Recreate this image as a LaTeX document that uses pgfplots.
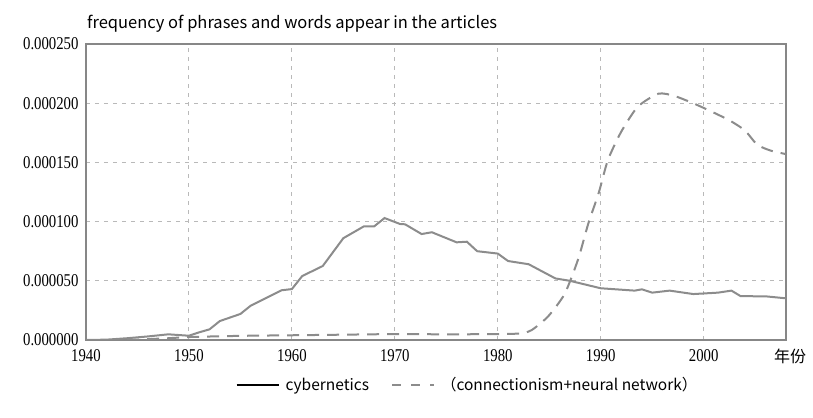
\documentclass[border=0pt]{standalone}
\usepackage{fontspec}
\usepackage{pgfplots}
\pgfplotsset{compat=1.18}
\newfontfamily\tickfont[FakeStretch=0.82]{Liberation Serif}
\newfontfamily\cjk{Noto Sans CJK SC}
\definecolor{linegray}{RGB}{140,140,140}
\definecolor{gridgray}{RGB}{185,185,185}
\definecolor{framegray}{RGB}{135,135,135}

\begin{document}
\begin{tikzpicture}
  \begin{axis}[
      at={(0,0)}, anchor=south west,
      scale only axis,
      width=700bp, height=296bp,
      xmin=1940, xmax=2008,
      ymin=0, ymax=0.00025,
      clip mode=individual,
      xtick={1940,1950,...,2000},
      ytick={0,0.00005,...,0.00025},
      scaled y ticks=false,
      yticklabel style={/pgf/number format/.cd, fixed, fixed zerofill, precision=6,
        /tikz/.cd, xshift=-4bp},
      xticklabel style={/pgf/number format/.cd, 1000 sep={}, /tikz/.cd, yshift=-6bp},
      /pgf/number format/assume math mode=true,
      tick label style={font=\tickfont\fontsize{18bp}{20bp}\selectfont, text=black},
      major tick length=0pt,
      axis line style={framegray, line width=2bp},
      grid=major,
      grid style={gridgray, line width=1bp, dash pattern=on 4bp off 5bp},
      legend columns=2,
      legend cell align=left,
      legend style={draw=none, fill=none, at={(0.545,-0.152)}, anchor=center,
        font=\cjk\fontsize{15.5bp}{18bp}\selectfont,
        /tikz/every odd column/.append style={column sep=4bp},
        /tikz/every even column/.append style={column sep=20bp}},
      legend image code/.code={\draw[#1] (0bp,0bp) -- (42bp,0bp);},
    ]
    \addlegendimage{black, line width=2bp}
    \addlegendentry{cybernetics}
    \addlegendimage{linegray, line width=2bp, dash pattern=on 9bp off 10bp}
    \addlegendentry{（connectionism+neural network）}

    \addplot[linegray, line width=2bp, forget plot] coordinates {
      (1940,0) (1942,0.0000003) (1944,0.0000015) (1946,0.000003) (1948,0.0000048)
      (1950,0.0000036) (1951,0.0000065) (1952,0.000009) (1953,0.000016)
      (1955,0.000022) (1956,0.000029) (1959,0.000042) (1960,0.000043)
      (1961,0.000054) (1963,0.0000625) (1965,0.000086) (1967,0.000096)
      (1968,0.000096) (1969,0.000103) (1970.5,0.000098) (1971,0.0000977)
      (1972.6,0.0000895) (1973.6,0.000091) (1976,0.0000825) (1977,0.000083)
      (1978,0.000075) (1980,0.000073) (1981,0.0000667) (1983,0.000064)
      (1985.6,0.000052) (1987,0.000050) (1990,0.0000437) (1993.3,0.0000417)
      (1994,0.0000428) (1995,0.000040) (1996.7,0.0000417) (1999,0.0000388)
      (2001.4,0.000040) (2002.7,0.0000417) (2003.6,0.000037) (2006,0.0000369)
      (2008,0.0000352)
    };
    \addplot[linegray, line width=2bp, dash pattern=on 12bp off 8bp, smooth, tension=0.4, forget plot] coordinates {
      (1944,0) (1948,0.0000015) (1950,0.0000025) (1955,0.0000035)
      (1960,0.000004) (1965,0.0000045) (1970,0.000005) (1975,0.0000048)
      (1980,0.000005) (1982.3,0.0000056) (1983.3,0.0000084) (1984.9,0.00002)
      (1986.5,0.000039) (1987.8,0.000068) (1988.8,0.0000985) (1989.8,0.000124)
      (1990.7,0.000152) (1992,0.000176) (1993.6,0.000197) (1995.6,0.000208)
      (1997.2,0.000206) (1999.5,0.000198) (2002.4,0.000186) (2004,0.000177)
      (2005.2,0.000165) (2006.5,0.000160) (2008,0.000157)
    };
  \end{axis}
  \node[anchor=base west, font=\cjk\fontsize{16.5bp}{18bp}\selectfont, inner sep=0pt]
    at (1bp,311bp) {frequency of phrases and words appear in the articles};
  \node[anchor=center, font=\cjk\fontsize{16bp}{18bp}\selectfont, inner sep=0pt]
    at (704bp,-16bp) {年份};
  \path[use as bounding box] (-86bp,-78bp) rectangle (727bp,340bp);
\end{tikzpicture}
\end{document}
